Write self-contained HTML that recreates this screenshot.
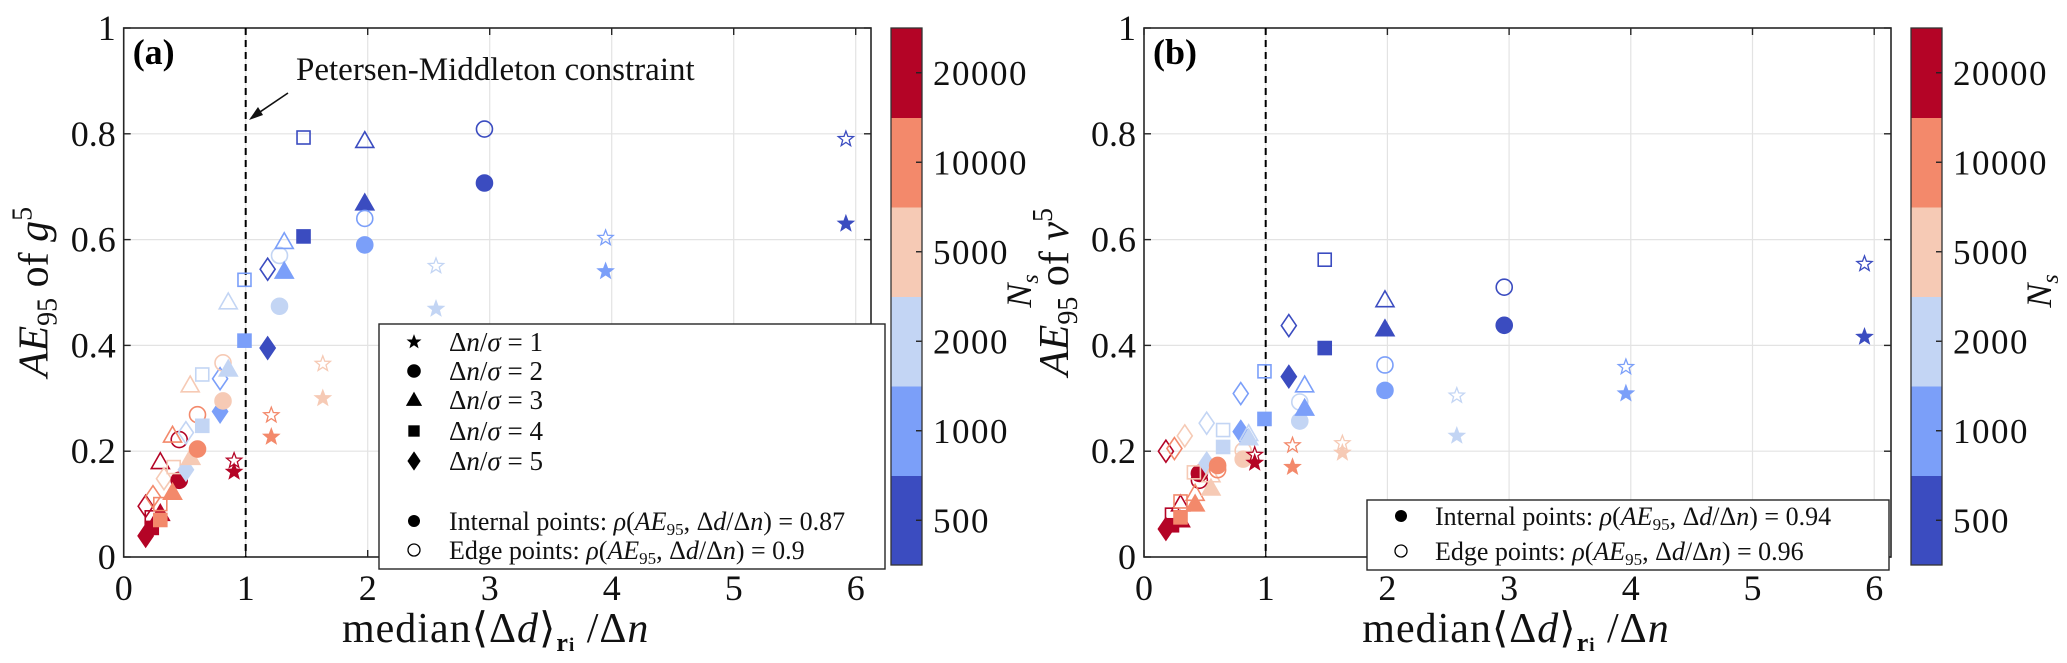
<!DOCTYPE html>
<html><head><meta charset="utf-8">
<style>
html,body{margin:0;padding:0;background:#fff;}
svg{display:block;font-family:"Liberation Serif",serif;}
</style></head>
<body>
<svg id="fig" width="2067" height="663" viewBox="0 0 2067 663" xmlns="http://www.w3.org/2000/svg"></svg>
<script>
// Shared marker metadata (same ordering for both panels)
const shapes = ['d','d','q','q','d','t','t','q','q','d','c','c','t','t','q','d','d','t','t','c','c','q','q','d','d','c','c','t','t','s','s','q','q','d','d','s','s','c','c','t','t','q','q','s','s','t','t','c','c','s','s','c','c','s','s','s','s'];
const levels = [5,5,5,5,4,5,5,4,4,3,5,5,4,4,3,2,2,3,3,4,4,2,2,1,1,3,3,2,2,5,5,1,1,0,0,4,4,2,2,1,1,0,0,3,3,0,0,1,1,2,2,0,0,1,1,0,0];
const filled = [1,0,1,0,0,1,0,1,0,0,1,0,0,1,0,0,1,1,0,1,0,1,0,1,0,1,0,1,0,0,1,0,1,1,0,0,1,0,1,0,1,0,1,0,1,0,1,0,1,0,1,0,1,0,1,0,1];
// Panel (a) values
const aX = [0.18,0.18,0.23,0.23,0.24,0.30,0.30,0.30,0.30,0.33,0.455,0.455,0.40,0.40,0.41,0.51,0.51,0.55,0.545,0.605,0.605,0.644,0.644,0.79,0.79,0.814,0.814,0.857,0.857,0.905,0.905,0.99,0.99,1.18,1.18,1.21,1.21,1.277,1.277,1.316,1.316,1.474,1.474,1.632,1.632,1.976,1.976,1.976,1.976,2.56,2.56,2.957,2.957,3.95,3.95,5.92,5.92];
const aY = [0.04,0.096,0.055,0.075,0.114,0.082,0.18,0.07,0.10,0.148,0.145,0.222,0.23,0.122,0.17,0.235,0.165,0.188,0.325,0.204,0.269,0.248,0.345,0.275,0.337,0.295,0.367,0.355,0.482,0.182,0.161,0.524,0.409,0.395,0.544,0.268,0.227,0.57,0.474,0.596,0.54,0.793,0.606,0.365,0.30,0.787,0.669,0.64,0.59,0.55,0.469,0.809,0.707,0.603,0.54,0.79,0.63];
// Panel (b) values
const bX = [0.18,0.18,0.23,0.23,0.25,0.30,0.30,0.30,0.30,0.335,0.455,0.455,0.42,0.42,0.41,0.515,0.515,0.55,0.55,0.605,0.605,0.65,0.65,0.795,0.795,0.815,0.815,0.86,0.86,0.91,0.91,0.99,0.99,1.19,1.19,1.22,1.22,1.28,1.28,1.32,1.32,1.485,1.485,1.63,1.63,1.98,1.98,1.98,1.98,2.57,2.57,2.96,2.96,3.96,3.96,5.92,5.92];
const bY = [0.053,0.20,0.06,0.08,0.205,0.07,0.10,0.075,0.105,0.229,0.158,0.145,0.12,0.10,0.16,0.253,0.177,0.13,0.155,0.173,0.165,0.208,0.24,0.237,0.309,0.185,0.201,0.225,0.233,0.193,0.178,0.351,0.261,0.341,0.4375,0.211,0.17,0.293,0.257,0.325,0.281,0.562,0.395,0.215,0.197,0.486,0.431,0.363,0.315,0.305,0.229,0.51,0.438,0.359,0.309,0.554,0.416];
const xTicks = [0,1,2,3,4,5,6];
const yTicks = [0,0.2,0.4,0.6,0.8,1];
const yTickLabels = ['0','0.2','0.4','0.6','0.8','1'];
const cbLabels = ['500','1000','2000','5000','10000','20000'];
const cbColors = ['#3b4cc0','#7b9ff9','#c3d5f4','#f6cab5','#f3896b','#b40426'];

const NS='http://www.w3.org/2000/svg';
const svg=document.getElementById('fig');
function el(tag,attrs,parent){const e=document.createElementNS(NS,tag);for(const k in attrs)e.setAttribute(k,attrs[k]);(parent||svg).appendChild(e);return e;}

const TOP=28,BOT=557;
function makeY(v){return BOT-v*(BOT-TOP);}

function starPath(cx,cy,r){let p='';for(let i=0;i<10;i++){const rr=i%2?r*0.42:r;const a=-Math.PI/2+i*Math.PI/5;p+=(i?'L':'M')+(cx+rr*Math.cos(a)).toFixed(1)+','+(cy+rr*Math.sin(a)).toFixed(1);}return p+'Z';}
function marker(g,shape,cx,cy,color,isFilled,scale){
  scale=scale||1;
  const fill=isFilled?color:'none';
  const common={fill:fill,stroke:color,'stroke-width':1.6};
  let m;
  if(shape==='c'){m=el('circle',Object.assign({cx:cx,cy:cy,r:8*scale},common),g);}
  else if(shape==='q'){const s=6.5*scale;m=el('rect',Object.assign({x:cx-s,y:cy-s,width:2*s,height:2*s},common),g);}
  else if(shape==='t'){const s=9*scale;m=el('polygon',Object.assign({points:`${cx},${cy-s} ${cx+s},${cy+s*0.75} ${cx-s},${cy+s*0.75}`},common),g);}
  else if(shape==='d'){const w=7.5*scale,h=11*scale;m=el('polygon',Object.assign({points:`${cx},${cy-h} ${cx+w},${cy} ${cx},${cy+h} ${cx-w},${cy}`},common),g);}
  else {m=el('path',Object.assign({d:starPath(cx,cy,8*scale)},common),g);m.setAttribute('stroke-width',1.3);}
  return m;
}

function panel(opts){
  const {x0,unit,right,xs,ys,label,yvar,name,cbx}=opts;
  const X=v=>x0+v*unit;
  const g=el('g',{});
  
  
  xTicks.forEach(t=>{if(t>0){const l=el('line',{x1:X(t),x2:X(t),y1:TOP,y2:BOT,stroke:'#e3e3e3','stroke-width':1.2},g);}});
  yTicks.forEach(t=>{if(t>0&&t<1){const l=el('line',{x1:x0,x2:right,y1:makeY(t),y2:makeY(t),stroke:'#e3e3e3','stroke-width':1.2},g);}});
  const box=el('rect',{x:x0,y:TOP,width:right-x0,height:BOT-TOP,fill:'none',stroke:'#262626','stroke-width':1.6},g);
  
  xTicks.forEach((t,i)=>{
    el('line',{x1:X(t),x2:X(t),y1:BOT,y2:BOT-7,stroke:'#262626','stroke-width':1.4},g);
    el('line',{x1:X(t),x2:X(t),y1:TOP,y2:TOP+7,stroke:'#262626','stroke-width':1.4},g);
    const tx=el('text',{x:X(t),y:600,'font-size':36,'text-anchor':'middle',fill:'#111'},g);
    tx.textContent=String(t);
    
  });
  yTicks.forEach((t,i)=>{
    el('line',{x1:x0,x2:x0+7,y1:makeY(t),y2:makeY(t),stroke:'#262626','stroke-width':1.4},g);
    el('line',{x1:right,x2:right-7,y1:makeY(t),y2:makeY(t),stroke:'#262626','stroke-width':1.4},g);
    const tx=el('text',{x:x0-8,y:makeY(t)+12,'font-size':36,'text-anchor':'end',fill:'#111'},g);
    tx.textContent=yTickLabels[i];
    
  });
  const dl=el('line',{x1:X(1),x2:X(1),y1:TOP,y2:BOT,stroke:'#000','stroke-width':2,'stroke-dasharray':'7,5'},g);
  
  const pl=el('text',{x:x0+9,y:64,'font-size':36,'font-weight':'bold',fill:'#000'},g);
  pl.textContent=label;
  const pg=el('g',{},g);
  
  for(let i=0;i<xs.length;i++){
    const m=marker(pg,shapes[i],X(xs[i]),makeY(ys[i]),cbColors[levels[i]],filled[i]);
    
    
  }
  const yt=el('text',{x:0,y:0,'font-size':42,'text-anchor':'middle',transform:`translate(${x0-76},292) rotate(-90)`,fill:'#111'},g);
  yt.innerHTML=`<tspan font-style="italic">AE</tspan><tspan font-size="28" dy="9">95</tspan><tspan dy="-9"> of </tspan><tspan font-style="italic">${yvar}</tspan><tspan font-size="28" dy="-16">5</tspan>`;
  
  const xt=el('text',{x:x0+372,y:642,'font-size':42,'text-anchor':'middle','letter-spacing':1,fill:'#111'},g);
  xt.innerHTML=`median⟨Δ<tspan font-style="italic">d</tspan>⟩<tspan font-size="26" font-weight="bold" dy="9">r</tspan><tspan font-size="19" font-weight="bold">i</tspan><tspan dy="-9"> /Δ</tspan><tspan font-style="italic">n</tspan>`;
  
  const cb=el('g',{},g);
  
  const cbTop=28,cbBot=565,bh=(cbBot-cbTop)/cbColors.length;
  cbColors.forEach((c,i)=>{
    const yy=cbBot-(i+1)*bh;
    const r=el('rect',{x:cbx,y:yy,width:31,height:bh+0.5,fill:c},cb);
    
    el('line',{x1:cbx+31,x2:cbx+25,y1:yy+bh/2,y2:yy+bh/2,stroke:'#222','stroke-width':1.4},cb);
    const t=el('text',{x:cbx+42,y:yy+bh/2+12,'font-size':35,'letter-spacing':1.5,fill:'#111'},cb);
    t.textContent=cbLabels[i];
    
  });
  el('rect',{x:cbx,y:cbTop,width:31,height:cbBot-cbTop,fill:'none',stroke:'#333','stroke-width':1.3},cb);
  const ns=el('text',{x:0,y:0,'font-size':36,'font-style':'italic','text-anchor':'middle',transform:`translate(${cbx+140},291) rotate(-90)`,fill:'#111'},cb);
  ns.innerHTML='N<tspan font-size="24" dy="7">s</tspan>';
  
  return g;
}

panel({x0:123.7,unit:122,right:871,xs:aX,ys:aY,label:'(a)',yvar:'g',name:'panel-a',cbx:891});
panel({x0:1144,unit:121.7,right:1891,xs:bX,ys:bY,label:'(b)',yvar:'v',name:'panel-b',cbx:1911});

const ann=el('text',{x:296,y:80,'font-size':33,fill:'#111'});
ann.textContent='Petersen-Middleton constraint';


const arr=el('g',{});


el('line',{x1:288,y1:93,x2:251,y2:118,stroke:'#111','stroke-width':1.6},arr);
el('polygon',{points:'249,120 258,107 263,115',fill:'#111'},arr);

function corrText(t,label,val){
  t.innerHTML=`${label}: <tspan font-style="italic">ρ</tspan>(<tspan font-style="italic">AE</tspan><tspan font-size="17" dy="5">95</tspan><tspan dy="-5">, Δ</tspan><tspan font-style="italic">d</tspan>/Δ<tspan font-style="italic">n</tspan>) = ${val}`;
}
const la=el('g',{});


el('rect',{x:379,y:324,width:506,height:245,fill:'#fff',stroke:'#262626','stroke-width':1.4},la);
const lrows=[342,371,400,431,461];
['s','c','t','q','d'].forEach((s,i)=>{
  const m=marker(la,s,414,lrows[i],'#000',1,0.75);
  
  
  const t=el('text',{x:449,y:lrows[i]+9,'font-size':27,fill:'#111'},la);
  t.innerHTML=`Δ<tspan font-style="italic">n</tspan>/<tspan font-style="italic">σ</tspan>  =  ${i+1}`;
  t.setAttribute('xml:space','preserve');
  
  
});
el('circle',{cx:414,cy:521,r:6,fill:'#000'},la);
el('circle',{cx:414,cy:550,r:6,fill:'none',stroke:'#000','stroke-width':1.3},la);
const ta1=el('text',{x:449,y:530,'font-size':26,fill:'#111'},la);corrText(ta1,'Internal points','0.87');

const ta2=el('text',{x:449,y:559,'font-size':26,fill:'#111'},la);corrText(ta2,'Edge points','0.9');


const lb=el('g',{});


el('rect',{x:1367,y:500,width:522,height:70,fill:'#fff',stroke:'#262626','stroke-width':1.4},lb);
el('circle',{cx:1401,cy:516,r:6,fill:'#000'},lb);
el('circle',{cx:1401,cy:551,r:6,fill:'none',stroke:'#000','stroke-width':1.3},lb);
const tb1=el('text',{x:1435,y:525,'font-size':26,fill:'#111'},lb);corrText(tb1,'Internal points','0.94');

const tb2=el('text',{x:1435,y:560,'font-size':26,fill:'#111'},lb);corrText(tb2,'Edge points','0.96');

</script>
</body></html>
